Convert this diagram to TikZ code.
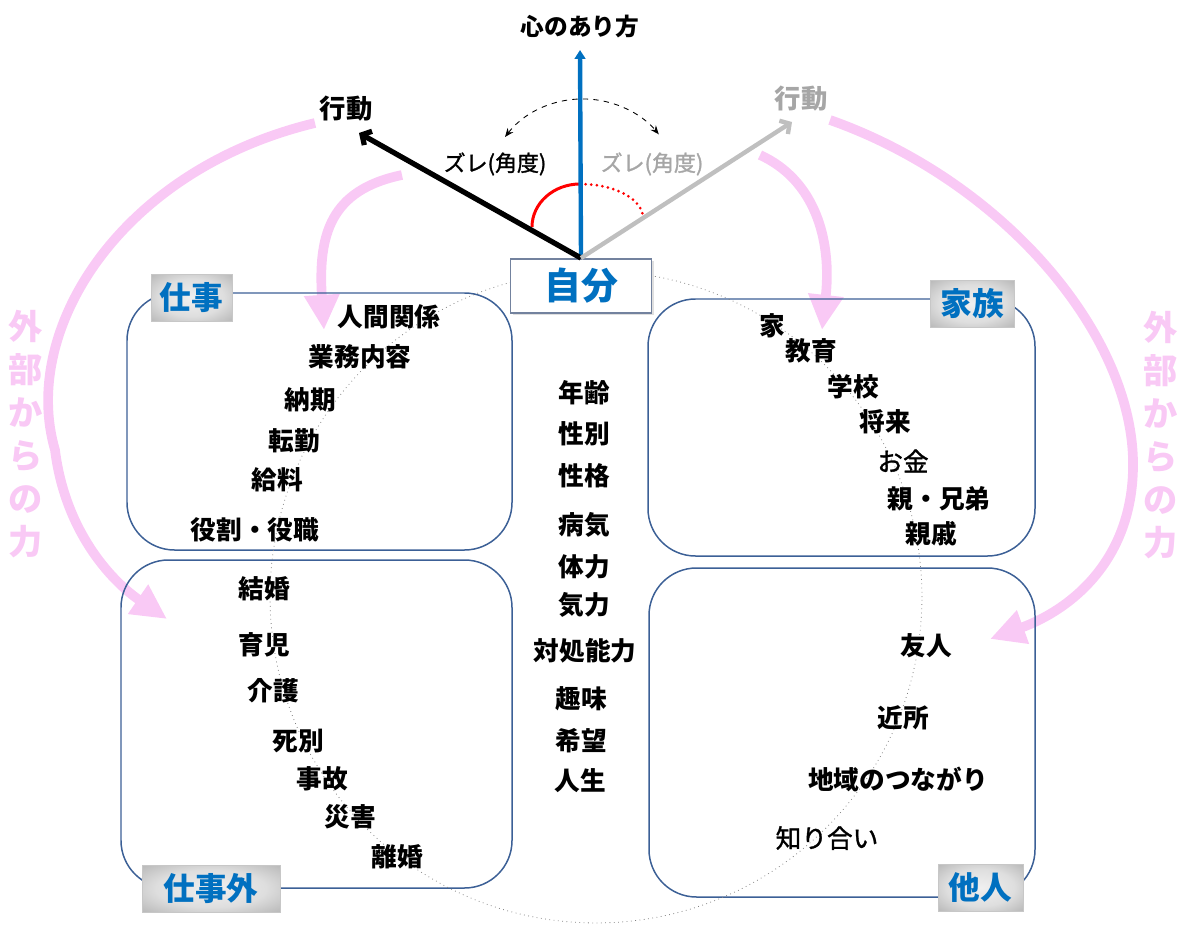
\documentclass[tikz,border=0pt]{standalone}
\usepackage{fontspec}
\setmainfont{Noto Sans CJK JP}
\newfontfamily\jpmed{Noto Sans CJK JP}[FakeBold=1.3]
\usetikzlibrary{arrows.meta,shadows}
\definecolor{kblue}{RGB}{0,112,192}
\definecolor{kpink}{RGB}{249,201,245}
\definecolor{kframe}{RGB}{60,96,150}
\definecolor{kgray}{RGB}{191,191,191}
\definecolor{kgraytext}{RGB}{166,166,166}
\definecolor{kred}{RGB}{255,0,0}
\definecolor{kselfframe}{RGB}{115,130,158}
\pgfdeclareradialshading{labelshade}{\pgfpoint{0bp}{0bp}}{color(0bp)=(white!94!black); color(20bp)=(white!87!black); color(40bp)=(white!68!black); color(60bp)=(white!58!black)}
\begin{document}
\begin{tikzpicture}[x=0.02cm,y=-0.02cm,
  item/.style={inner sep=0pt, font=\fontsize{14.6pt}{16pt}\selectfont\bfseries},
  itemlight/.style={inner sep=0pt, font=\fontsize{14.6pt}{16pt}\selectfont\jpmed},
  area/.style={draw=kframe, line width=0.85pt, rounded corners=0.95cm},
  tag/.style={shade, shading=labelshade, draw=white!78!black, line width=0.4pt, inner sep=0pt,
    text=kblue, font=\fontsize{18pt}{20pt}\selectfont\bfseries, minimum height=0.94cm},
  force/.style={draw=kpink, line width=5.5pt, -{Triangle[length=20pt,width=19pt]}},
  forcetext/.style={inner sep=0pt, align=center, text=kpink, font=\fontsize{19.5pt}{24.5pt}\selectfont\bfseries},
  title/.style={inner sep=0pt, font=\fontsize{13.5pt}{15pt}\selectfont\bfseries},
  act/.style={inner sep=0pt, font=\fontsize{15pt}{17pt}\selectfont\bfseries},
  gap/.style={inner sep=0pt, font=\fontsize{12.5pt}{14pt}\selectfont\jpmed},
  selfbox/.style={draw=kselfframe, line width=1.1pt, fill=white, inner sep=0pt,
    minimum width=2.82cm, minimum height=1.08cm, text=kblue,
    font=\fontsize{21pt}{23pt}\selectfont\bfseries,
    drop shadow={opacity=0.25, shadow xshift=1.2pt, shadow yshift=-1.2pt}}
]
\useasboundingbox (0,0) rectangle (1200,929);

% pink external forces
\draw[force] (315,123) .. controls (120,170) and (20,330) .. (55,450)
   .. controls (65,530) and (110,580) .. (167,619);
\draw[force] (830,120) .. controls (1000,180) and (1130,330) .. (1133,460)
   .. controls (1135,560) and (1070,610) .. (990,639);
\draw[force] (402,175) .. controls (330,190) and (318,235) .. (324,330);
\draw[force] (760,155) .. controls (815,180) and (832,240) .. (822,330);

\node[forcetext] (forceL) at (26,434) {外\\部\\か\\ら\\の\\力};
\node[forcetext] (forceR) at (1161,435) {外\\部\\か\\ら\\の\\力};

% areas
\draw[area] (127,293) rectangle (512,550);
\draw[area] (121,560) rectangle (512,888);
\draw[area] (648,299) rectangle (1035,556);
\draw[area] (649,568) rectangle (1035,897);

% dotted circle
\draw[gray, line width=0.45pt, dotted] (596,597) circle[radius=6.52cm];

% self
\node[selfbox] (self) at (581,286) {自分};

% angle marks
\draw[kred, line width=1.7pt] (532,227) arc[start angle=180, end angle=90, x radius=0.96cm, y radius=0.86cm];
\draw[kred, line width=1.7pt, line cap=round, dash pattern=on 0pt off 3.2pt] (580,184) arc[start angle=90, end angle=0, x radius=1.26cm, y radius=0.68cm];
\draw[black, line width=0.5pt, dashed, {Stealth[length=5pt,width=4pt]}-{Stealth[length=5pt,width=4pt]}]
  (505,137) arc[start angle=142, end angle=40, radius=1.98cm];

% directions
\coordinate (kokorotip) at (580,50);
\coordinate (acttip) at (359,133);
\coordinate (graytip) at (792,122);
\draw[kblue, line width=2.5pt, -{Triangle[length=5pt,width=6pt]}] (self.north) -- (kokorotip);
\draw[black, line width=3pt, -{Straight Barb[length=4pt,width=9pt]}] (self.north) -- (acttip);
\draw[kgray, line width=2.5pt, -{Straight Barb[length=4pt,width=9pt]}] (self.north) -- (graytip);

\node[title] (kokoro) at (580,27) {心のあり方};
\node[act] (act) at (346,109) {行動};
\node[act, text=kgraytext] (actgray) at (801,99) {行動};
\node[gap] (gap) at (495,164) {ズレ(角度)};
\node[gap, text=kgraytext] (gapgray) at (652,164) {ズレ(角度)};

% tags
\node[tag, minimum width=1.62cm] (tagwork) at (191.5,297.5) {仕事};
\node[tag, minimum width=1.68cm] (tagfamily) at (972,303.5) {家族};
\node[tag, minimum width=2.76cm] (tagoff) at (211,888.5) {仕事外};
\node[tag, minimum width=1.70cm] (tagother) at (980.5,887.5) {他人};

% work
\node[item] (w1) at (389,317) {人間関係};
\node[item] (w2) at (360,357) {業務内容};
\node[item] (w3) at (310,400) {納期};
\node[item] (w4) at (294,441) {転勤};
\node[item] (w5) at (277,480) {給料};
\node[item] (w6) at (255,530) {役割・役職};

% off work
\node[item] (o1) at (264,589) {結婚};
\node[item] (o2) at (264,645) {育児};
\node[item] (o3) at (273,691) {介護};
\node[item] (o4) at (298,741) {死別};
\node[item] (o5) at (322,779) {事故};
\node[item] (o6) at (350,817) {災害};
\node[item] (o7) at (397,857) {離婚};

% self attributes
\node[item] (s1) at (584,393) {年齢};
\node[item] (s2) at (584,434) {性別};
\node[item] (s3) at (584,476) {性格};
\node[item] (s4) at (584,525) {病気};
\node[item] (s5) at (584,567) {体力};
\node[item] (s6) at (584,605) {気力};
\node[item] (s7) at (585,651) {対処能力};
\node[item] (s8) at (581,699) {趣味};
\node[item] (s9) at (581,741) {希望};
\node[item] (s10) at (580,781) {人生};

% family
\node[item] (f1) at (772,326) {家};
\node[item] (f2) at (811,351) {教育};
\node[item] (f3) at (853,387) {学校};
\node[item] (f4) at (885,422) {将来};
\node[itemlight] (f5) at (903,461) {お金};
\node[item] (f6) at (939,499) {親・兄弟};
\node[item] (f7) at (931,534) {親戚};

% others
\node[item] (p1) at (926,646) {友人};
\node[item] (p2) at (903,718) {近所};
\node[item] (p3) at (898,779) {地域のつながり};
\node[itemlight] (p4) at (827,838) {知り合い};
\end{tikzpicture}
\end{document}
